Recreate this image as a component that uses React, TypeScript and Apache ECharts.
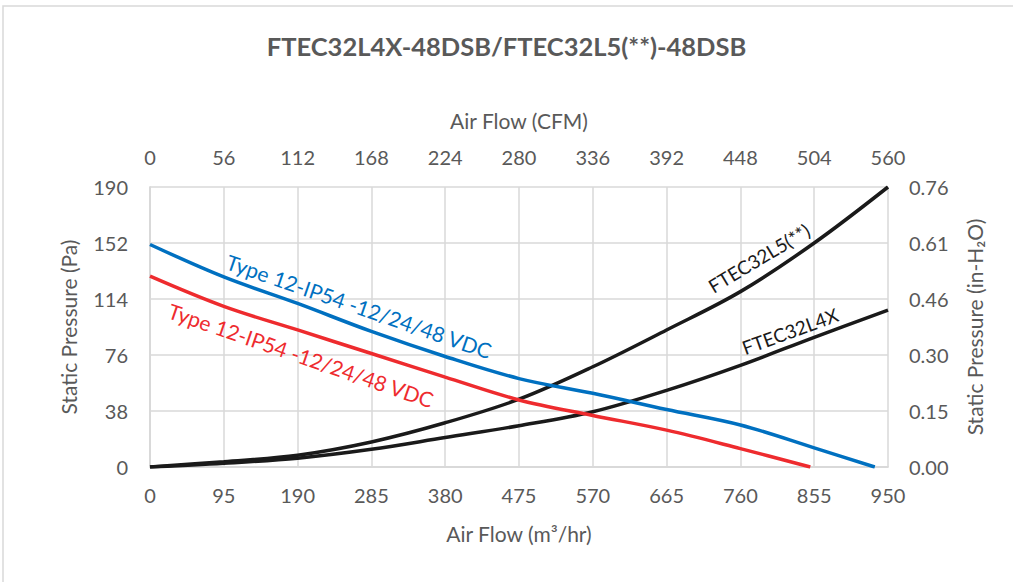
import React, { useEffect, useRef } from "react";
import * as echarts from "echarts";

// Air flow (m³/hr) sample points and static pressure (Pa) readings
const blueFlow = [0, 95, 190, 285, 380, 475, 570, 665, 760, 855, 933];
const bluePressure = [151, 129, 111, 92, 75, 60, 50, 39, 28.5, 13, 0];

const redFlow = [0, 95, 190, 285, 380, 475, 570, 665, 760, 850];
const redPressure = [129.5, 109, 93, 77, 61, 45.5, 35, 25, 12.5, 0];

const sysFlow = [0, 95, 190, 285, 380, 475, 570, 665, 760, 855, 950];
const l5Pressure = [0, 3.6, 8, 17, 30, 46, 68, 93, 119, 152, 190];
const l4xPressure = [0, 2.5, 6, 12, 20, 28, 37.5, 52, 69, 88, 106.5];

const bottomTicks = { min: 0, max: 950, interval: 95 };
const topTicks = { min: 0, max: 560, interval: 56 };
const leftTicks = { min: 0, max: 190, interval: 38 };
const paPerInH2O = 250;

const FONT = "Lato, 'Open Sans', sans-serif";
const GRAY = "#595959";
const GRID = "#D9D9D9";

const pairs = (xs: number[], ys: number[]) => xs.map((x, i) => [x, ys[i]]);

export default function App() {
  const ref = useRef<HTMLDivElement>(null);
  useEffect(() => {
    if (!ref.current) return;
    const chart = echarts.init(ref.current, null, { renderer: "svg" });
    const axisLabel = { color: GRAY, fontSize: 20, fontFamily: FONT };
    const nameTextStyle = { color: GRAY, fontSize: 21, fontFamily: FONT };
    const lineSeries = (name: string, data: number[][], color: string) => ({
      name,
      type: "line",
      data,
      smooth: 0.35,
      showSymbol: false,
      lineStyle: { color, width: 3.5 },
      itemStyle: { color },
      xAxisIndex: 0,
      yAxisIndex: 0,
      z: color === "#1A1A1A" ? 3 : 4,
    });
    const deg = Math.PI / 180;
    // angle: degrees the text descends to the right (negative = rises)
    const label = (text: string, x: number, y: number, angle: number, color: string, size: number) => ({
      type: "text",
      x,
      y,
      rotation: -angle * deg,
      z: 100,
      style: {
        text,
        fill: color,
        font: `${size}px ${FONT}`,
        textAlign: "center",
        textVerticalAlign: "middle",
        align: "center",
        verticalAlign: "middle",
      },
    });
    chart.setOption({
      animation: false,
      backgroundColor: "#ffffff",
      title: {
        text: "FTEC32L4X-48DSB/FTEC32L5(**)-48DSB",
        left: "center",
        top: 28,
        textStyle: { color: GRAY, fontSize: 25.5, fontWeight: "bold", fontFamily: FONT },
      },
      grid: { left: 150, right: 125, top: 187, bottom: 115 },
      xAxis: [
        {
          type: "value",
          position: "bottom",
          ...bottomTicks,
          name: "Air Flow (m³/hr)",
          nameLocation: "middle",
          nameGap: 56,
          nameTextStyle,
          axisLabel: { ...axisLabel, margin: 18 },
          axisTick: { show: false },
          axisLine: { show: true, lineStyle: { color: GRID, width: 1.5 } },
          splitLine: { show: true, lineStyle: { color: GRID, width: 1.5 } },
        },
        {
          type: "value",
          position: "top",
          ...topTicks,
          name: "Air Flow (CFM)",
          nameLocation: "middle",
          nameGap: 56,
          nameTextStyle,
          axisLabel: { ...axisLabel, margin: 20 },
          axisTick: { show: false },
          axisLine: { show: true, lineStyle: { color: GRID, width: 1.5 } },
          splitLine: { show: false },
        },
      ],
      yAxis: [
        {
          type: "value",
          position: "left",
          ...leftTicks,
          name: "Static Pressure (Pa)",
          nameLocation: "middle",
          nameRotate: 90,
          nameGap: 71,
          nameTextStyle,
          axisLabel: { ...axisLabel, margin: 22 },
          axisTick: { show: false },
          axisLine: { show: true, lineStyle: { color: GRID, width: 1.5 } },
          splitLine: { show: true, lineStyle: { color: GRID, width: 1.5 } },
        },
        {
          type: "value",
          position: "right",
          ...leftTicks,
          name: "Static Pressure (in-H₂O)",
          nameLocation: "middle",
          nameRotate: 90,
          nameGap: 76,
          nameTextStyle,
          axisLabel: {
            ...axisLabel,
            margin: 21,
            formatter: (v: number) => (v / paPerInH2O).toFixed(2),
          },
          axisTick: { show: false },
          axisLine: { show: true, lineStyle: { color: GRID, width: 1.5 } },
          splitLine: { show: false },
        },
      ],
      series: [
        lineSeries("FTEC32L5(**)", pairs(sysFlow, l5Pressure), "#1A1A1A"),
        lineSeries("FTEC32L4X", pairs(sysFlow, l4xPressure), "#1A1A1A"),
        lineSeries("Type 12-IP54 -12/24/48 VDC (blue)", pairs(blueFlow, bluePressure), "#0070C0"),
        lineSeries("Type 12-IP54 -12/24/48 VDC (red)", pairs(redFlow, redPressure), "#EE2B2E"),
      ],
      graphic: [
        {
          type: "rect",
          shape: { x: 3, y: 6, width: 1030, height: 600 },
          style: { fill: "none", stroke: GRID, lineWidth: 1.5 },
          z: -1,
        },
        label("Type 12-IP54 -12/24/48 VDC", 359, 306, 19, "#0070C0", 21),
        label("Type 12-IP54 -12/24/48 VDC", 301, 355, 19, "#EE2B2E", 21),
        label("FTEC32L5(**)", 759, 258, -31, "#1A1A1A", 19),
        label("FTEC32L4X", 790, 331, -20, "#1A1A1A", 19),
      ],
    });
    return () => chart.dispose();
  }, []);
  return (
    <div
      ref={ref}
      style={{ position: "fixed", left: 0, top: 0, width: 1013, height: 582 }}
    />
  );
}
